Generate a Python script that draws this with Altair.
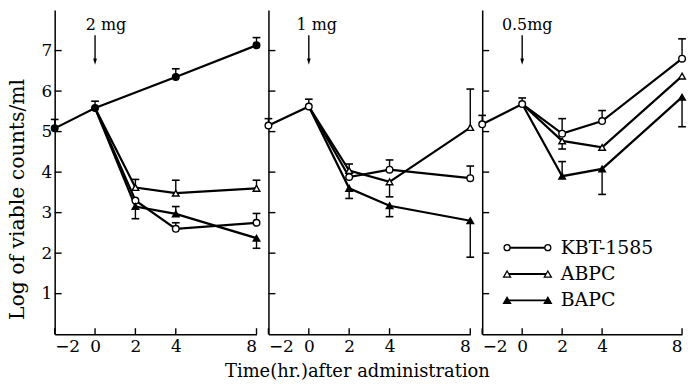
import altair as alt
import pandas as pd

# ---- data -----------------------------------------------------------------
PANELS = ["2 mg", "1 mg", "0.5mg"]           # dose given at t = 0
DRUGS = ["KBT-1585", "ABPC", "BAPC"]
PRE_TIMES = [-2, 0]                          # hours, before / at dosing
SAMPLE_TIMES = [2, 4, 8]                     # hours after administration
X_TICKS = [-2, 0, 2, 4, 8]
Y_TICKS = [1, 2, 3, 4, 5, 6, 7]

# log viable counts before dosing (mean, top of error bar)
pre_mean = {"2 mg": [5.08, 5.58], "1 mg": [5.15, 5.62], "0.5mg": [5.18, 5.68]}
pre_err = {"2 mg": [5.30, 5.75], "1 mg": [5.32, 5.80], "0.5mg": [5.40, 5.83]}

# untreated growth control, 2 mg panel
control_times = [4, 8]
control_mean = [6.35, 7.13]
control_err = [6.55, 7.32]

# treated groups at 2, 4 and 8 h (None = no error bar drawn)
drug_mean = {
    "2 mg": {"KBT-1585": [3.30, 2.60, 2.75],
             "ABPC": [3.62, 3.48, 3.60],
             "BAPC": [3.15, 2.97, 2.37]},
    "1 mg": {"KBT-1585": [3.88, 4.06, 3.85],
             "ABPC": [4.04, 3.76, 5.10],
             "BAPC": [3.60, 3.17, 2.80]},
    "0.5mg": {"KBT-1585": [4.95, 5.26, 6.80],
              "ABPC": [4.77, 4.61, 6.37],
              "BAPC": [3.90, 4.08, 5.85]},
}
drug_err = {
    "2 mg": {"KBT-1585": [None, 2.75, 2.98],
             "ABPC": [3.82, 3.80, 3.80],
             "BAPC": [2.85, 3.15, 2.12]},
    "1 mg": {"KBT-1585": [None, 4.30, 4.15],
             "ABPC": [4.20, 3.39, 6.05],
             "BAPC": [3.35, 2.90, 1.90]},
    "0.5mg": {"KBT-1585": [5.32, 5.52, 7.29],
              "ABPC": [4.57, None, None],
              "BAPC": [4.26, 3.45, 5.12]},
}

# ---- long table -------------------------------------------------------------
rows = []
for p in PANELS:
    base_series = "Control" if p == "2 mg" else "KBT-1585"
    for t, m, e in zip(PRE_TIMES, pre_mean[p], pre_err[p]):
        rows.append(dict(panel=p, series=base_series, time=t, mean=m, err=e, marker=True))
    # treated curves leave from the value at dosing time
    for d in DRUGS:
        if d != base_series:
            rows.append(dict(panel=p, series=d, time=0, mean=pre_mean[p][1], err=None, marker=False))
        for t, m, e in zip(SAMPLE_TIMES, drug_mean[p][d], drug_err[p][d]):
            rows.append(dict(panel=p, series=d, time=t, mean=m, err=e, marker=True))
for t, m, e in zip(control_times, control_mean, control_err):
    rows.append(dict(panel="2 mg", series="Control", time=t, mean=m, err=e, marker=True))
df = pd.DataFrame(rows)

doses = pd.DataFrame({"panel": PANELS, "dose": PANELS, "time": [0, 0, 0]})
x_ticks = pd.DataFrame({"time": X_TICKS})
y_ticks = pd.DataFrame({"mean": Y_TICKS})

FONT = "DejaVu Serif"
HEIGHT = 326
TICK_LEN = 7
SERIES = ["Control", "KBT-1585", "ABPC", "BAPC"]
SHAPES = ["circle", "circle", "triangle-up", "triangle-up"]
FILLS = ["black", "white", "white", "black"]
SIZES = [44, 44, 58, 58]
ARROW_TOP, ARROW_TIP, LABEL_Y = 7.38, 6.65, 7.62
LABEL_DX = [11, 8, 5]

# key box inside the 0.5mg panel (pixels from the panel's corner)
KEY_X0, KEY_X1, KEY_TEXT_X = 22, 69, 79
KEY_Y0, KEY_DY = 239, 26.5


def x_axis(i):
    return alt.Axis(
        values=X_TICKS, format="d", ticks=False, grid=False,
        domainColor="black", domainWidth=1.5,
        labelFont=FONT, labelFontSize=17, labelColor="black", labelPadding=4,
        title="Time(hr.)after administration" if i == 1 else "",
        titleFont=FONT, titleFontSize=18, titleFontWeight="normal",
        titleColor="black", titleX=89, titleY=38, titleBaseline="middle",
    )


def y_axis(i):
    return alt.Axis(
        values=Y_TICKS, ticks=False, grid=False, labels=(i == 0),
        domainColor="black", domainWidth=1.5,
        labelFont=FONT, labelFontSize=17, labelColor="black", labelPadding=3,
        title="Log of viable counts/ml" if i == 0 else "",
        titleFont=FONT, titleFontSize=20.5, titleFontWeight="normal",
        titleColor="black", titleAngle=270, titleX=-37, titleY=190,
        titleBaseline="middle", titleAlign="center",
    )


def key_layers():
    out = []
    for k, d in enumerate(DRUGS):
        yy = KEY_Y0 + k * KEY_DY
        j = SERIES.index(d)
        src = alt.Chart(pd.DataFrame({"drug": [d]}))
        out.append(src.mark_rule(color="black", strokeWidth=2).encode(
            x=alt.value(KEY_X0 + 3), x2=alt.value(KEY_X1 - 3), y=alt.value(yy)))
        for xx in (KEY_X0 + 3, KEY_X1 - 3):
            out.append(src.mark_point(shape=SHAPES[j], size=SIZES[j] - 8, filled=True,
                                      fill=FILLS[j], stroke="black", strokeWidth=1.3,
                                      opacity=1).encode(x=alt.value(xx), y=alt.value(yy)))
        out.append(src.mark_text(font=FONT, fontSize=19, color="black", align="left",
                                 baseline="middle").encode(
            x=alt.value(KEY_TEXT_X), y=alt.value(yy), text="drug:N"))
    return out


def panel(i, name, width):
    base = alt.Chart(df).transform_filter(alt.datum.panel == name)
    x = alt.X("time:Q", scale=alt.Scale(domain=[-2, 8], nice=False, zero=False), axis=x_axis(i))
    y = alt.Y("mean:Q", scale=alt.Scale(domain=[0, 8], nice=False, zero=False), axis=y_axis(i))

    lines = base.mark_line(color="black", strokeWidth=2.2).encode(
        x=x, y=y, detail="series:N", order="time:Q")
    with_err = base.transform_filter("isValid(datum.err)")
    bars = with_err.mark_rule(color="black", strokeWidth=1.4).encode(
        x="time:Q", y="mean:Q", y2="err:Q")
    caps = with_err.mark_point(shape="stroke", size=60, color="black", strokeWidth=1.6,
                               opacity=1).encode(x="time:Q", y="err:Q")
    points = base.transform_filter("datum.marker").mark_point(
        filled=True, stroke="black", strokeWidth=1.4, opacity=1, fillOpacity=1
    ).encode(
        x="time:Q", y="mean:Q",
        shape=alt.Shape("series:N", legend=None, scale=alt.Scale(domain=SERIES, range=SHAPES)),
        fill=alt.Fill("series:N", legend=None, scale=alt.Scale(domain=SERIES, range=FILLS)),
        size=alt.Size("series:N", legend=None, scale=alt.Scale(domain=SERIES, range=SIZES)),
    )

    # inward tick marks on both axes
    xt = alt.Chart(x_ticks).mark_rule(color="black", strokeWidth=1.4).encode(
        x="time:Q", y=alt.value(HEIGHT - TICK_LEN + 1), y2=alt.value(HEIGHT))
    yt = alt.Chart(y_ticks).mark_rule(color="black", strokeWidth=1.4).encode(
        y="mean:Q", x=alt.value(0), x2=alt.value(TICK_LEN))

    dose = alt.Chart(doses).transform_filter(alt.datum.panel == name)
    shaft = dose.mark_rule(color="black", strokeWidth=1.4).encode(
        x="time:Q", y=alt.datum(ARROW_TOP), y2=alt.datum(ARROW_TIP + 0.1))
    head = dose.mark_point(shape="M-0.9,-3L0,0L0.9,-3Z", size=18, filled=True,
                           color="black", opacity=1).encode(
        x="time:Q", y=alt.datum(ARROW_TIP))
    label = dose.mark_text(font=FONT, fontSize=16, color="black", dx=LABEL_DX[i],
                           baseline="middle").encode(
        x="time:Q", y=alt.datum(LABEL_Y), text="dose:N")

    layers = [lines, bars, caps, points, xt, yt, shaft, head, label]
    if i == 2:
        layers += key_layers()
    return alt.layer(*layers).properties(width=width, height=HEIGHT)


chart = alt.hconcat(
    panel(0, PANELS[0], 203),
    panel(1, PANELS[1], 203),
    panel(2, PANELS[2], 201),
    spacing=12, bounds="flush",
).properties(
    padding={"left": 7, "top": 8, "right": 0, "bottom": 2},
).configure_view(
    stroke="transparent"
)

chart.save("out.html", embed_options={"renderer": "svg", "actions": False})
